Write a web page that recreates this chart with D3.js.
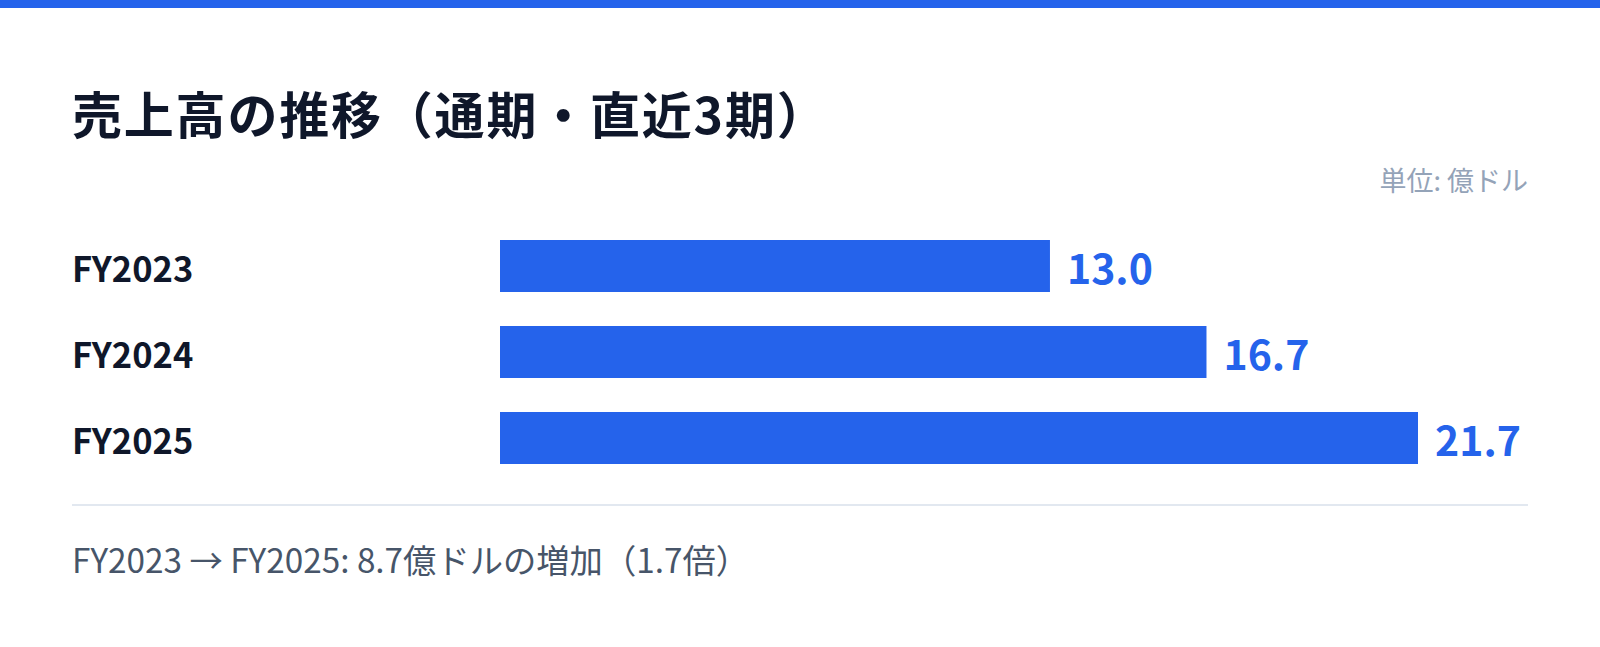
<!DOCTYPE html>
<html lang="ja">
<head>
<meta charset="utf-8">
<script src="https://cdn.jsdelivr.net/npm/d3@7"></script>
<style>
  html, body { margin: 0; padding: 0; background: #fff; }
  svg { display: block; font-family: 'Noto Sans CJK JP', 'Noto Sans', sans-serif; }
</style>
</head>
<body>
<div id="chart"></div>
<script>
// data
const categories = ['FY2023', 'FY2024', 'FY2025'];
const revenue = [13.0, 16.7, 21.7];
const titleText = '売上高の推移（通期・直近3期）';
const unitText = '単位: 億ドル';
const footerText = 'FY2023 → FY2025: 8.7億ドルの増加（1.7倍）';

const width = 1600;
const height = 647;
const margin = {left: 72, right: 72};
const blue = '#2563eb';

const svg = d3
  .select('#chart')
  .append('svg')
  .attr('width', width)
  .attr('height', height)
  .attr('viewBox', `0,0,${width},${height}`);

// top accent stripe
svg.append('rect')
  .attr('x', 0).attr('y', 0)
  .attr('width', width).attr('height', 8)
  .attr('fill', blue);

svg.append('text')
  .attr('x', margin.left)
  .attr('y', 134)
  .attr('fill', '#0f172a')
  .attr('font-size', 50)
  .attr('font-weight', 700)
  .attr('letter-spacing', 1.8)
  .text(titleText);

svg.append('text')
  .attr('x', width - margin.right)
  .attr('y', 191)
  .attr('text-anchor', 'end')
  .attr('fill', '#94a3b8')
  .attr('font-size', 27)
  .text(unitText);

const x = d3
  .scaleLinear()
  .domain([0, d3.max(revenue)])
  .range([500, 1418]);

const y = d3
  .scaleBand()
  .domain(categories)
  .range([240, 464])
  .paddingInner(34 / 86)
  .paddingOuter(0);

const rows = svg
  .append('g')
  .selectAll('g')
  .data(categories.map((c, i) => ({cat: c, value: revenue[i]})))
  .join('g')
  .attr('transform', d => `translate(0,${y(d.cat)})`);

rows.append('text')
  .attr('x', margin.left)
  .attr('y', y.bandwidth() / 2)
  .attr('dy', 15.5)
  .attr('fill', '#0f172a')
  .attr('font-size', 34.5)
  .attr('font-weight', 700)
  .text(d => d.cat);

rows.append('rect')
  .attr('x', x(0))
  .attr('y', 0)
  .attr('width', d => x(d.value) - x(0))
  .attr('height', y.bandwidth())
  .attr('fill', blue);

rows.append('text')
  .attr('x', d => x(d.value) + 17)
  .attr('y', y.bandwidth() / 2)
  .attr('dy', 18)
  .attr('fill', blue)
  .attr('font-size', 41)
  .attr('font-weight', 700)
  .text(d => d3.format('.1f')(d.value));

// divider
svg.append('line')
  .attr('x1', margin.left)
  .attr('x2', width - margin.right)
  .attr('y1', 505)
  .attr('y2', 505)
  .attr('stroke', '#e2e8f0')
  .attr('stroke-width', 2);

svg.append('text')
  .attr('x', margin.left)
  .attr('y', 573)
  .attr('fill', '#475569')
  .attr('font-size', 33.3)
  .text(footerText);
</script>
</body>
</html>
